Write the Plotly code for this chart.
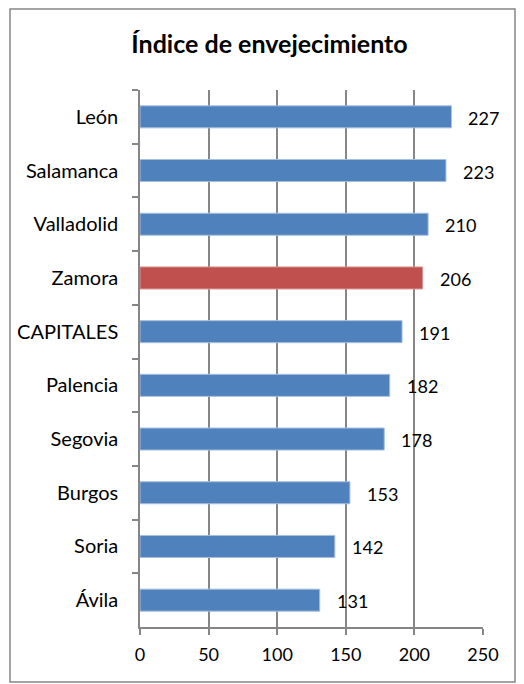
import plotly.graph_objects as go

categories = ["León", "Salamanca", "Valladolid", "Zamora", "CAPITALES",
              "Palencia", "Segovia", "Burgos", "Soria", "Ávila"]
values = [227, 223, 210, 206, 191, 182, 178, 153, 142, 131]
highlight = "Zamora"
x_ticks = [0, 50, 100, 150, 200, 250]
title_text = "Índice de envejecimiento"

BLUE = "#4F81BD"
BLUE_EDGE = "#A7BFDE"
RED = "#C0504D"
RED_EDGE = "#D99694"
GRID = "#868686"
FONT = "Lato"

colors = [RED if c == highlight else BLUE for c in categories]
edges = [RED_EDGE if c == highlight else BLUE_EDGE for c in categories]

fig = go.Figure()
fig.add_trace(go.Bar(
    x=values, y=categories, orientation="h",
    marker=dict(color=colors, line=dict(width=1, color=edges)),
    width=0.41,
    hoverinfo="skip",
))

for c, v in zip(categories, values):
    fig.add_annotation(x=v, y=c, text=str(v), showarrow=False,
                       xanchor="left", yanchor="middle", xshift=15, yshift=-1,
                       font=dict(family=FONT, size=18, color="black"))

# page body adds an 8px offset, so the figure is laid out in a 516x676 box
OFF = 8
W, H = 524 - OFF, 684 - OFF
L, R, T, B = 140 - OFF, 41, 90 - OFF, 57
pw, ph = W - L - R, H - T - B

def px(xp):
    return (xp - OFF - L) / pw

def py(yp):
    return (H - B - (yp - OFF)) / ph

fig.add_shape(type="rect", xref="paper", yref="paper",
              x0=px(10), x1=px(515), y0=py(682), y1=py(9),
              line=dict(color=GRID, width=1.5), fillcolor="rgba(0,0,0,0)", layer="below")

fig.update_layout(
    width=W, height=H,
    margin=dict(l=L, r=R, t=T, b=B, autoexpand=False),
    paper_bgcolor="white", plot_bgcolor="white",
    showlegend=False,
    title=dict(text=f"<b>{title_text}</b>", x=(269.5 - OFF) / W, xanchor="center",
               xref="container",
               y=1 - (44 - OFF) / H, yanchor="middle", yref="container",
               font=dict(family=FONT, size=25, color="black")),
    font=dict(family=FONT, size=18, color="black"),
    xaxis=dict(range=[0, 250], tickvals=x_ticks, showgrid=True, gridcolor=GRID,
               gridwidth=1.5, showline=True, linecolor=GRID, linewidth=1.5,
               ticks="outside", ticklen=6, tickcolor=GRID, tickwidth=1.5,
               zeroline=False, ticklabelstandoff=5, fixedrange=True,
               tickfont=dict(family=FONT, size=18)),
    yaxis=dict(categoryorder="array", categoryarray=categories, autorange="reversed",
               showline=True, linecolor=GRID, linewidth=1.5, showgrid=False,
               ticks="outside", ticklen=6, tickcolor=GRID, tickwidth=1.5,
               tickson="boundaries", ticklabelstandoff=16, fixedrange=True,
               tickfont=dict(family=FONT, size=20)),
    bargap=0.6,
)

fig.write_html("out.html")
